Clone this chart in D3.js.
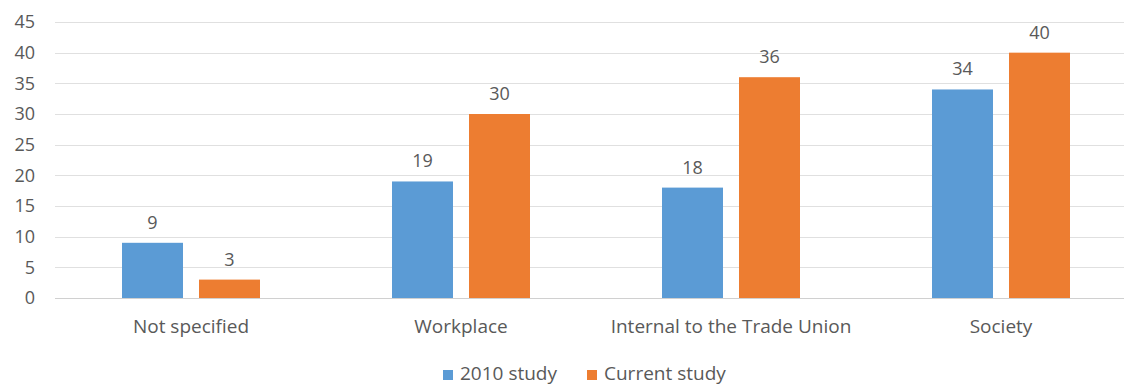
<!DOCTYPE html>
<html><head><meta charset="utf-8">
<script src="https://cdn.jsdelivr.net/npm/d3@7"></script>
<style>body{margin:0;background:#fff}svg{display:block}text{font-family:"Open Sans",sans-serif;fill:#595959}</style>
</head><body><svg id="c" width="1124" height="385"></svg>
<script>
const categories = ["Not specified","Workplace","Internal to the Trade Union","Society"];
const series = ["2010 study","Current study"];
const study2010 = [9,19,18,34];
const currentStudy = [3,30,36,40];
const yTicks = [0,5,10,15,20,25,30,35,40,45];
const colors = ["#5b9bd5","#ed7d31"];

const svg = d3.select("#c");
const W = 1124;
const x = d3.scaleBand().domain(categories).range([56,1136]).paddingInner(0).paddingOuter(0);
const y = d3.scaleLinear().domain([0,45]).range([298,22]);
const xs = d3.scaleBand().domain(series).range([0,x.bandwidth()]).paddingInner(0.208).paddingOuter(0.857);

// gridlines
svg.append("g").selectAll("line").data(yTicks).join("line")
  .attr("x1",55).attr("x2",W).attr("y1",d=>Math.round(y(d))+0.5).attr("y2",d=>Math.round(y(d))+0.5)
  .attr("stroke",d=>d===0?"#d0d0d0":"#e0e0e0").attr("stroke-width",1.2);

// y labels
svg.append("g").selectAll("text").data(yTicks).join("text")
  .attr("x",35).attr("y",d=>y(d)).attr("dy","0.35em").attr("text-anchor","end")
  .style("font-size","18px").text(d=>d);

const data = categories.map((c,i)=>({c, vals:[study2010[i],currentStudy[i]]}));
const g = svg.append("g");
data.forEach(d=>{
  d.vals.forEach((v,j)=>{
    const bx = x(d.c)+xs(series[j]);
    g.append("rect").attr("x",bx).attr("width",xs.bandwidth())
      .attr("y",y(v)).attr("height",y(0)-y(v)).attr("fill",colors[j]);
    g.append("text").attr("x",bx+xs.bandwidth()/2).attr("y",y(v)-14)
      .attr("text-anchor","middle").style("font-size","18px").text(v);
  });
});

// category labels
svg.append("g").selectAll("text").data(categories).join("text")
  .attr("x",d=>x(d)+x.bandwidth()/2).attr("y",333).attr("text-anchor","middle")
  .style("font-size","19px").text(d=>d);

// legend
const leg = svg.append("g");
const lx = [443,587];
series.forEach((s,j)=>{
  leg.append("rect").attr("x",lx[j]).attr("y",370).attr("width",10).attr("height",10).attr("fill",colors[j]);
  leg.append("text").attr("x",lx[j]+17).attr("y",380).style("font-size","19px").text(s);
});
</script></body></html>
